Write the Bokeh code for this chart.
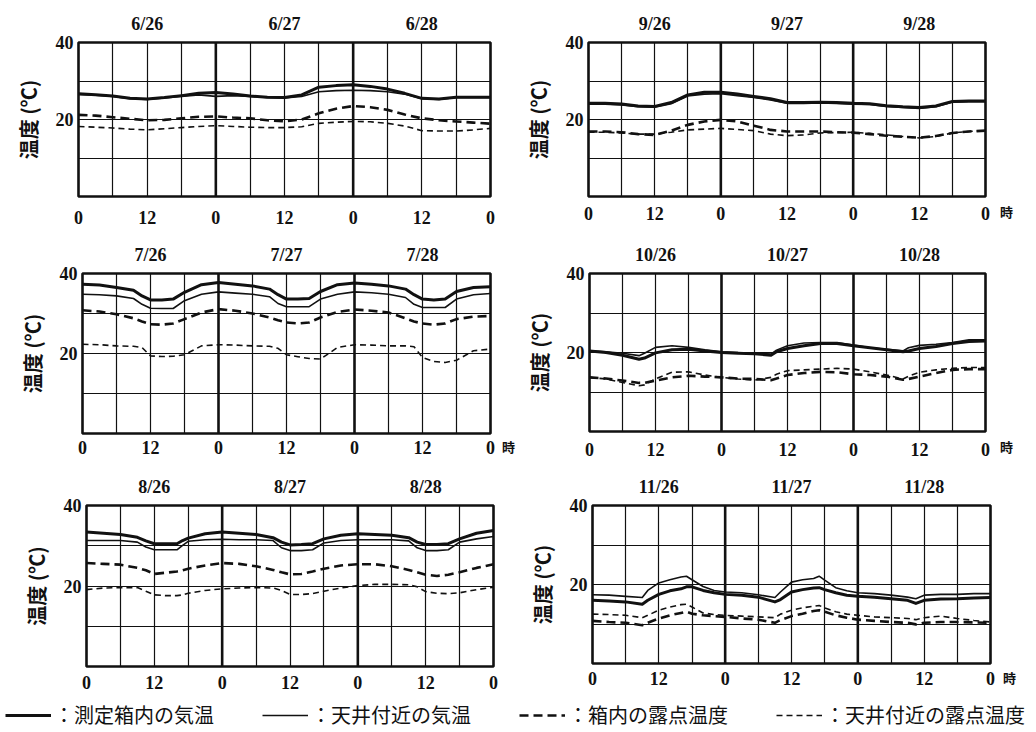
from bokeh.plotting import figure
from bokeh.models import (Range1d, FixedTicker, LinearAxis, Span, Legend, Div,
                          LegendItem, CustomJSTickFormatter)
from bokeh.layouts import column, row
from bokeh.embed import file_html
from bokeh.resources import INLINE

# ---------------- data (hours from 0 h of the first day, deg C) ----------------
HOURS_JUN = [0, 3, 6, 9, 12, 15, 18, 21, 24, 27, 30, 33, 36, 39, 42, 45, 48, 51, 54, 57, 60, 63, 66, 69, 72]
JUN_BOX_AIR = [26.7, 26.4, 26.1, 25.5, 25.3, 25.7, 26.2, 26.8, 27.0, 26.6, 26.1, 25.8, 25.7, 26.4, 28.4, 28.8, 29.0, 28.6, 27.9, 26.8, 25.5, 25.3, 25.8, 25.8, 25.8]
JUN_CEIL_AIR = [26.5, 26.3, 26.0, 25.4, 25.2, 25.6, 26.0, 26.4, 26.0, 26.2, 26.0, 25.7, 25.6, 26.0, 27.2, 27.5, 27.6, 27.5, 27.2, 26.6, 25.4, 25.2, 25.7, 25.7, 25.7]
JUN_BOX_DEW = [21.2, 21.0, 20.6, 20.2, 19.8, 19.9, 20.3, 20.7, 20.8, 20.5, 20.3, 19.8, 19.5, 20.0, 21.6, 22.8, 23.5, 23.2, 22.5, 21.3, 20.3, 19.8, 19.5, 19.2, 18.9]
JUN_CEIL_DEW = [18.2, 18.0, 17.8, 17.5, 17.3, 17.6, 17.9, 18.2, 18.4, 18.2, 18.0, 17.9, 17.9, 18.1, 19.0, 19.3, 19.5, 19.4, 19.0, 18.3, 17.1, 17.0, 17.0, 17.3, 17.7]

HOURS_SEP = [0, 3, 6, 9, 12, 15, 18, 21, 24, 27, 30, 33, 36, 39, 42, 45, 48, 51, 54, 57, 60, 63, 66, 69, 72]
SEP_BOX_AIR = [24.2, 24.2, 24.0, 23.5, 23.4, 24.4, 26.4, 27.1, 27.1, 26.6, 26.0, 25.4, 24.4, 24.4, 24.5, 24.4, 24.2, 24.1, 23.6, 23.3, 23.1, 23.5, 24.7, 24.8, 24.8]
SEP_CEIL_AIR = [24.0, 24.0, 23.8, 23.3, 23.2, 24.1, 26.1, 26.6, 26.7, 26.2, 25.7, 25.1, 24.2, 24.2, 24.3, 24.2, 24.0, 23.9, 23.4, 23.1, 22.9, 23.3, 24.5, 24.6, 24.6]
SEP_BOX_DEW = [16.9, 16.9, 16.7, 16.2, 16.0, 17.1, 18.6, 19.5, 19.9, 19.5, 18.4, 17.3, 16.9, 16.9, 16.9, 16.7, 16.6, 16.2, 15.8, 15.5, 15.3, 15.7, 16.5, 16.9, 17.1]
SEP_CEIL_DEW = [16.7, 16.7, 16.5, 16.2, 16.2, 16.7, 17.3, 17.5, 17.7, 17.4, 17.1, 16.2, 15.8, 16.0, 16.5, 16.6, 16.7, 16.4, 16.0, 15.6, 15.2, 15.6, 16.5, 16.9, 17.1]

HOURS_JUL = [0, 3, 6, 9, 10.5, 12, 14, 16, 18, 21, 24, 27, 30, 33, 34.5, 36, 38, 40, 42, 45, 48, 51, 54, 57, 58.5, 60, 62, 64, 66, 69, 72]
JUL_BOX_AIR = [37.3, 37.1, 36.5, 35.8, 34.4, 33.4, 33.4, 33.6, 35.3, 37.2, 37.75, 37.3, 36.9, 36.1, 34.7, 33.6, 33.6, 33.75, 35.5, 37.2, 37.6, 37.3, 36.9, 36.1, 34.7, 33.6, 33.4, 33.6, 35.5, 36.5, 36.7]
JUL_CEIL_AIR = [34.8, 34.7, 34.4, 33.75, 32.3, 31.3, 31.25, 31.25, 33.2, 34.8, 35.4, 35.1, 34.8, 34.2, 32.5, 31.7, 31.7, 31.7, 33.6, 34.8, 35.4, 35.2, 34.8, 34.0, 32.3, 31.5, 31.5, 31.5, 33.6, 34.7, 35.0]
JUL_BOX_DEW = [30.8, 30.5, 29.8, 28.8, 28.0, 27.3, 27.2, 27.5, 28.6, 30.25, 31.1, 30.7, 30.0, 29.0, 28.3, 27.75, 27.5, 27.75, 29.0, 30.4, 31.0, 30.7, 30.25, 28.8, 28.0, 27.5, 27.2, 27.5, 28.6, 29.2, 29.4]
JUL_CEIL_DEW = [22.3, 22.2, 21.9, 21.8, 21.5, 19.4, 19.25, 19.3, 19.7, 21.9, 22.2, 22.1, 21.9, 21.8, 21.3, 19.7, 19.2, 18.75, 18.6, 21.5, 22.2, 22.1, 21.9, 21.9, 21.7, 19.0, 18.0, 17.75, 18.3, 20.7, 21.1]

HOURS_OCT = [0, 3, 6, 9, 10, 12, 15, 18, 21, 24, 27, 30, 33, 34, 36, 39, 42, 45, 48, 51, 54, 57, 58, 60, 63, 66, 69, 72]
OCT_BOX_AIR = [20.4, 20.0, 19.3, 18.3, 18.6, 19.9, 20.7, 20.8, 20.4, 20.0, 19.8, 19.7, 19.3, 20.2, 21.0, 21.7, 22.3, 22.3, 21.7, 21.2, 20.7, 20.2, 20.4, 21.0, 21.5, 22.3, 22.8, 22.9]
OCT_CEIL_AIR = [20.4, 20.2, 19.8, 19.2, 19.8, 21.3, 21.7, 21.3, 20.7, 20.2, 20.0, 19.8, 19.6, 20.6, 21.7, 22.4, 22.5, 22.5, 21.9, 21.2, 20.8, 20.4, 21.2, 21.8, 22.1, 22.5, 23.2, 23.2]
OCT_BOX_DEW = [13.7, 13.4, 12.9, 12.3, 12.3, 12.9, 13.7, 14.1, 13.9, 13.7, 13.4, 13.3, 13.0, 13.4, 14.3, 14.8, 15.1, 15.0, 14.5, 14.3, 13.9, 13.1, 13.3, 13.9, 14.8, 15.6, 15.8, 15.8]
OCT_CEIL_DEW = [13.7, 13.3, 12.4, 11.6, 11.8, 13.3, 15.0, 15.1, 14.3, 13.7, 13.3, 13.0, 13.7, 14.5, 15.4, 15.6, 15.8, 16.0, 15.8, 15.1, 14.3, 13.3, 14.0, 15.0, 15.6, 16.0, 16.2, 16.2]

HOURS_AUG = [0, 3, 6, 9, 10.5, 12, 14, 16, 17, 18, 21, 24, 27, 30, 33, 34.5, 36, 38, 40, 42, 45, 48, 51, 54, 57, 58.5, 60, 62, 64, 66, 69, 72]
AUG_BOX_AIR = [33.4, 33.1, 32.8, 32.1, 31.2, 30.5, 30.5, 30.5, 31.3, 31.9, 33.0, 33.4, 33.1, 32.8, 32.0, 30.9, 30.2, 30.3, 30.5, 31.7, 32.6, 33.0, 32.8, 32.6, 32.0, 30.9, 30.3, 30.3, 30.5, 31.7, 33.1, 33.8]
AUG_CEIL_AIR = [31.3, 31.3, 31.3, 30.9, 29.7, 29.0, 29.0, 29.0, 30.1, 31.1, 31.5, 31.6, 31.5, 31.5, 31.3, 29.5, 28.8, 28.8, 29.0, 30.7, 31.3, 31.5, 31.5, 31.5, 31.2, 29.5, 28.8, 28.8, 29.0, 30.9, 31.7, 32.3]
AUG_BOX_DEW = [25.7, 25.5, 25.3, 24.5, 23.9, 23.0, 23.3, 23.6, 23.9, 24.3, 25.1, 25.7, 25.5, 24.9, 24.0, 23.4, 22.9, 23.0, 23.6, 24.3, 25.1, 25.4, 25.4, 24.9, 24.0, 23.4, 22.8, 22.5, 22.8, 23.4, 24.5, 25.4]
AUG_CEIL_DEW = [19.1, 19.5, 19.6, 19.6, 18.7, 17.8, 17.6, 17.6, 17.8, 18.2, 18.9, 19.3, 19.5, 19.6, 19.5, 18.9, 17.9, 17.9, 18.1, 18.7, 19.5, 20.1, 20.4, 20.4, 20.3, 19.8, 18.6, 18.2, 18.1, 18.3, 19.1, 19.7]

HOURS_NOV = [0, 3, 6, 9, 10, 12, 14, 16, 17, 18, 20, 22, 24, 27, 30, 33, 34, 36, 38, 40, 41, 42, 44, 46, 48, 51, 54, 57, 58.5, 60, 63, 66, 69, 72]
NOV_BOX_AIR = [16.0, 15.8, 15.6, 15.0, 16.0, 17.5, 18.4, 18.9, 19.4, 19.4, 18.5, 17.9, 17.5, 17.3, 16.8, 15.6, 16.2, 18.1, 18.7, 19.1, 19.2, 18.7, 17.9, 17.3, 17.0, 16.8, 16.4, 16.0, 15.2, 16.0, 16.3, 16.4, 16.6, 16.7]
NOV_CEIL_AIR = [17.4, 17.3, 17.0, 16.7, 18.5, 20.4, 21.2, 21.9, 22.1, 21.2, 19.5, 18.5, 18.1, 17.9, 17.4, 16.7, 18.1, 20.6, 21.2, 21.5, 22.1, 21.1, 19.2, 18.4, 17.9, 17.7, 17.3, 16.8, 16.4, 17.3, 17.5, 17.5, 17.7, 17.7]
NOV_BOX_DEW = [10.8, 10.5, 10.3, 9.7, 10.3, 11.4, 12.2, 12.8, 13.1, 12.6, 12.2, 12.0, 11.8, 11.4, 11.1, 10.3, 11.0, 12.0, 12.6, 13.3, 13.5, 13.1, 12.2, 11.6, 11.1, 10.8, 10.5, 10.3, 9.9, 10.3, 10.5, 10.5, 10.4, 10.3]
NOV_CEIL_DEW = [12.5, 12.4, 12.2, 11.6, 12.2, 13.5, 14.3, 14.9, 15.0, 14.3, 12.8, 12.4, 12.2, 12.0, 11.8, 11.6, 12.5, 13.5, 14.1, 14.5, 14.7, 14.1, 13.1, 12.5, 12.2, 11.8, 11.6, 11.4, 11.1, 11.6, 12.0, 11.4, 10.9, 10.5]

DATES_JUN = ["6/26", "6/27", "6/28"]
DATES_SEP = ["9/26", "9/27", "9/28"]
DATES_JUL = ["7/26", "7/27", "7/28"]
DATES_OCT = ["10/26", "10/27", "10/28"]
DATES_AUG = ["8/26", "8/27", "8/28"]
DATES_NOV = ["11/26", "11/27", "11/28"]

Y_TICKS = [20, 40]
Y_GRID = [10, 20, 30]
X_TICKS = [0, 12, 24, 36, 48, 60, 72]
X_GRID = [6, 12, 18, 30, 36, 42, 54, 60, 66]
DAY_LINES = [24, 48]
DATE_TICKS = [12, 36, 60]
Y_LABEL = "温度 (℃)"
HOUR_UNIT = "時"
LEGEND_LABELS = ["：測定箱内の気温", "：天井付近の気温", "：箱内の露点温度", "：天井付近の露点温度"]

# ---------------- styles ----------------
INK = "#111111"
STYLES = [
    dict(line_width=3.0, line_dash="solid"),
    dict(line_width=1.6, line_dash="solid"),
    dict(line_width=2.6, line_dash="9 5"),
    dict(line_width=1.6, line_dash="6 4"),
]
NUM_FONT = "Liberation Serif"
JP_FONT = "Noto Sans CJK JP"

# layout (pixels): frame size, borders, tick-label standoff, unit-label box
PANELS = [
    dict(hours=HOURS_JUN, series=[JUN_BOX_AIR, JUN_CEIL_AIR, JUN_BOX_DEW, JUN_CEIL_DEW], dates=DATES_JUN,
         fw=412, fh=154, bl=78, br=28, bt=42, bb=42, xs=14, unit=None),
    dict(hours=HOURS_SEP, series=[SEP_BOX_AIR, SEP_CEIL_AIR, SEP_BOX_DEW, SEP_CEIL_DEW], dates=DATES_SEP,
         fw=397, fh=154, bl=70, br=12, bt=41, bb=43, xs=10, unit=(31, 205, 3)),
    dict(hours=HOURS_JUL, series=[JUL_BOX_AIR, JUL_CEIL_AIR, JUL_BOX_DEW, JUL_CEIL_DEW], dates=DATES_JUL,
         fw=408, fh=160, bl=82, br=10, bt=35, bb=35, xs=7, unit=(18, 202, 2)),
    dict(hours=HOURS_OCT, series=[OCT_BOX_AIR, OCT_CEIL_AIR, OCT_BOX_DEW, OCT_CEIL_DEW], dates=DATES_OCT,
         fw=396, fh=158, bl=71, br=12, bt=33, bb=39, xs=11, unit=(31, 202, 3)),
    dict(hours=HOURS_AUG, series=[AUG_BOX_AIR, AUG_CEIL_AIR, AUG_BOX_DEW, AUG_CEIL_DEW], dates=DATES_AUG,
         fw=407, fh=161, bl=86, br=25, bt=37, bb=32, xs=9, unit=None),
    dict(hours=HOURS_NOV, series=[NOV_BOX_AIR, NOV_CEIL_AIR, NOV_BOX_DEW, NOV_CEIL_DEW], dates=DATES_NOV,
         fw=398, fh=158, bl=74, br=12, bt=37, bb=35, xs=8, unit=(26, 203, 1)),
]


def style_axis(ax, size="18px"):
    ax.axis_line_color = None
    ax.major_tick_line_color = None
    ax.minor_tick_line_color = None
    ax.major_tick_out = 0
    ax.major_tick_in = 0
    ax.minor_tick_out = 0
    ax.minor_tick_in = 0
    ax.major_label_text_font = NUM_FONT
    ax.major_label_text_font_style = "bold"
    ax.major_label_text_font_size = size
    ax.major_label_text_color = INK


def make_panel(cfg):
    p = figure(frame_width=cfg["fw"], frame_height=cfg["fh"],
               x_range=Range1d(0, 72), y_range=Range1d(0, 40),
               output_backend="svg", toolbar_location=None,
               min_border_left=cfg["bl"], min_border_right=cfg["br"],
               min_border_top=cfg["bt"], min_border_bottom=cfg["bb"],
               background_fill_color="white", border_fill_color="white")
    p.outline_line_color = INK
    p.outline_line_width = 2.6

    p.xgrid.ticker = FixedTicker(ticks=X_GRID)
    p.ygrid.ticker = FixedTicker(ticks=Y_GRID)
    p.grid.grid_line_color = INK
    p.grid.grid_line_width = 1.2
    p.grid.grid_line_alpha = 1.0
    for d in DAY_LINES:
        p.add_layout(Span(location=d, dimension="height", line_color=INK, line_width=2.6))

    xa = p.xaxis[0]
    xa.ticker = FixedTicker(ticks=X_TICKS)
    xa.formatter = CustomJSTickFormatter(code="return String(Math.round(tick) % 24)")
    style_axis(xa)
    xa.major_label_standoff = cfg["xs"]

    ya = p.yaxis[0]
    ya.ticker = FixedTicker(ticks=Y_TICKS)
    style_axis(ya)
    ya.major_label_standoff = 5
    ya.axis_label = Y_LABEL
    ya.axis_label_text_font = JP_FONT
    ya.axis_label_text_font_style = "bold"
    ya.axis_label_text_font_size = "20px"
    ya.axis_label_text_color = INK
    ya.axis_label_standoff = 10

    top = LinearAxis(ticker=FixedTicker(ticks=DATE_TICKS),
                     major_label_overrides={t: d for t, d in zip(DATE_TICKS, cfg["dates"])})
    style_axis(top)
    top.major_label_standoff = 9
    p.add_layout(top, "above")

    for vals, st in zip(cfg["series"], STYLES):
        p.line(cfg["hours"], vals, line_color=INK, line_join="round", **st)
    return p


def unit_box(cfg, height):
    w, top, pad = cfg["unit"]
    html = (f'<div style="height:{top}px"></div>'
            f'<div style="padding-left:{pad}px;font-family:\'{JP_FONT}\';font-weight:bold;'
            f'font-size:13px;line-height:13px;color:{INK}">{HOUR_UNIT}</div>')
    return Div(text=html, width=w, height=height, margin=0)


figs = [make_panel(c) for c in PANELS]
ROW_H = [238, 230, 230]


def panel_row(i, j, h):
    items = []
    for k in (i, j):
        items.append(figs[k])
        if PANELS[k]["unit"] is not None:
            items.append(unit_box(PANELS[k], h))
    return row(*items)


# legend strip: sample lines drawn from a real series but kept outside the visible y range
lf = figure(width=1028, height=32, x_range=Range1d(0, 72), y_range=Range1d(100, 101),
            output_backend="svg", toolbar_location=None, min_border=0,
            x_axis_location=None, y_axis_location=None, outline_line_color=None)
lf.grid.visible = False
leg_rs = [lf.line(HOURS_JUN, vals, line_color=INK, **st)
          for vals, st in zip([JUN_BOX_AIR, JUN_CEIL_AIR, JUN_BOX_DEW, JUN_CEIL_DEW], STYLES)]
legend = Legend(items=[LegendItem(label=l, renderers=[r]) for l, r in zip(LEGEND_LABELS, leg_rs)],
                orientation="horizontal", location=(5, 1), spacing=48, glyph_width=46,
                glyph_height=22, label_height=22, label_standoff=3, padding=0, margin=0,
                border_line_color=None, background_fill_alpha=0,
                label_text_font=JP_FONT, label_text_font_size="20px", label_text_color=INK)
lf.add_layout(legend)

layout = column(panel_row(0, 1, ROW_H[0]), panel_row(2, 3, ROW_H[1]), panel_row(4, 5, ROW_H[2]), lf)
open("out.html", "w").write(file_html(layout, INLINE))
